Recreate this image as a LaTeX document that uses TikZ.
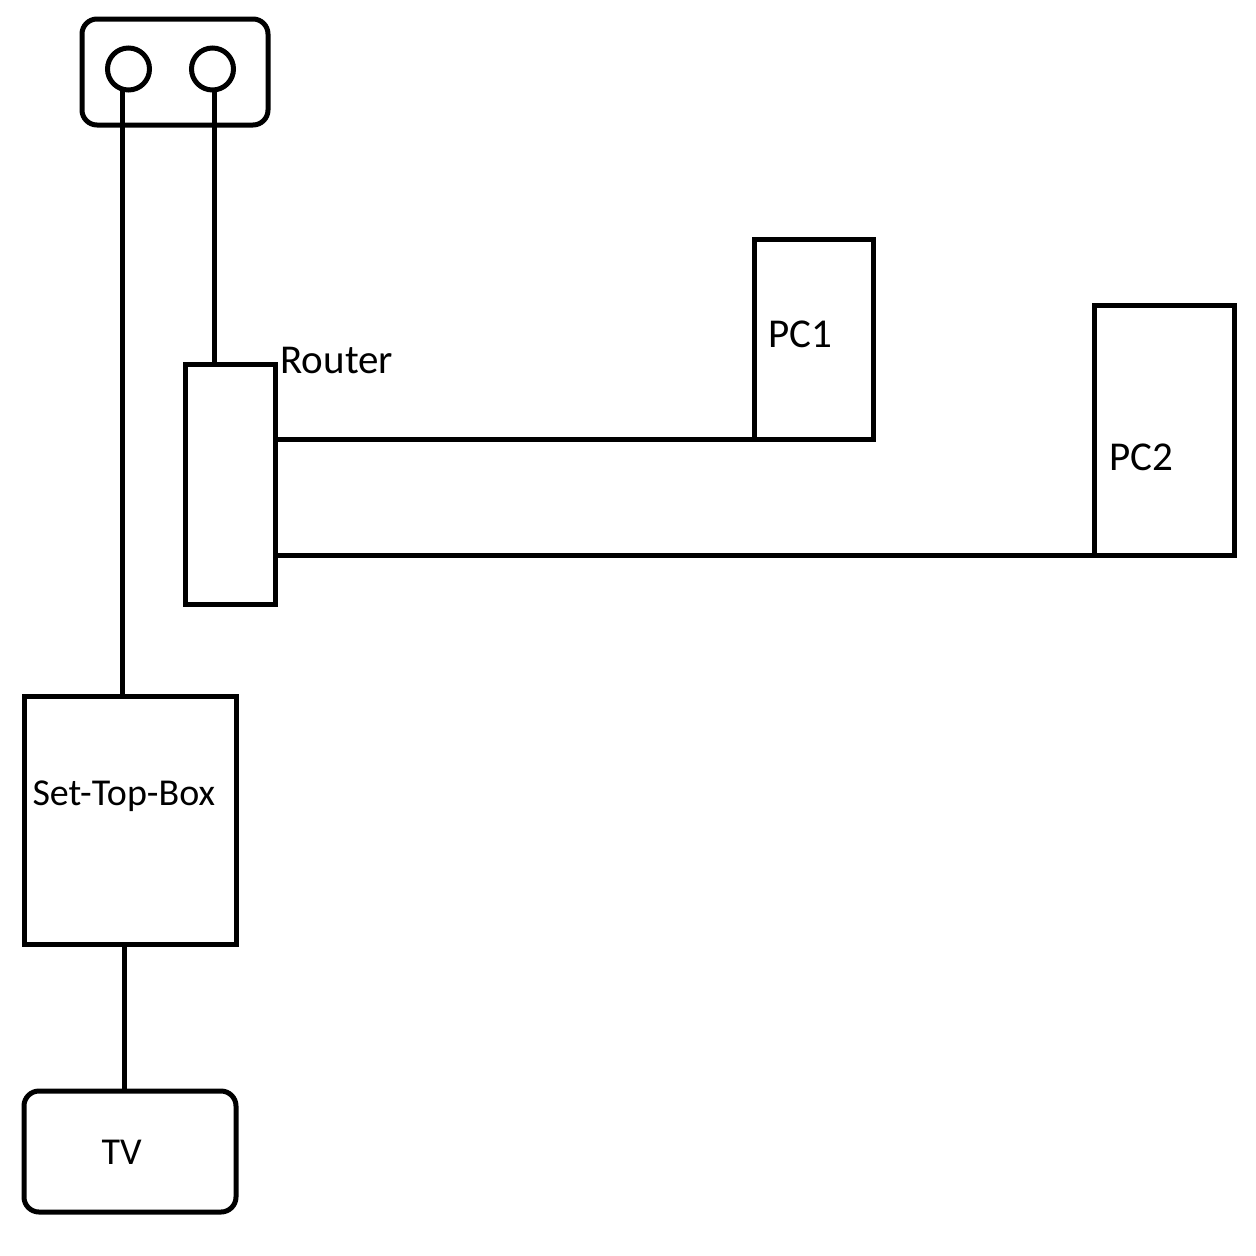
\documentclass[tikz,border=0pt]{standalone}
\usepackage{fontspec}
\setmainfont{Carlito}
\begin{document}
\begin{tikzpicture}[x=1pt,y=-1pt,line width=5pt,
  box/.style={draw,rectangle,inner sep=0pt,outer sep=0pt},
  rbox/.style={box,rounded corners=15pt},
  jack/.style={draw,circle,inner sep=0pt,outer sep=0pt,minimum size=42pt},
  lbl/.style={inner sep=0pt,anchor=base west,font=\fontsize{41}{49}\selectfont},
  slbl/.style={lbl,font=\fontsize{38}{46}\selectfont}]
\useasboundingbox (0,0) rectangle (1256,1256);
% wall socket
\node[rbox,minimum width=186pt,minimum height=106pt] (socket) at (175,72) {};
\node[jack] (j1) at (128.5,69) {};
\node[jack] (j2) at (212.5,69) {};
% devices
\node[box,minimum width=90pt,minimum height=240pt] (router) at (230.5,484.5) {};
\node[box,minimum width=119pt,minimum height=200pt] (pc1) at (813.5,339) {};
\node[box,minimum width=140pt,minimum height=250pt] (pc2) at (1164,430) {};
\node[box,minimum width=212pt,minimum height=248pt] (stb) at (130,820) {};
\node[rbox,minimum width=212pt,minimum height=121pt] (tv) at (130,1151.5) {};
% labels
\node[lbl] (lrouter) at (278,373) {Router};
\node[lbl] (lpc1) at (766,347) {PC1};
\node[lbl] (lpc2) at (1107,470) {PC2};
\node[slbl] (lstb) at (30,805) {Set-Top-Box};
\node[slbl] (ltv) at (99,1164) {TV};
% cables
\coordinate (c1) at (122.5,89.5);
\coordinate (c2) at (214.5,90);
\draw (c1) -- (c1 |- stb.north);
\draw (c2) -- (c2 |- router.north);
\draw (pc1.south west -| router.east) -- (pc1.south west);
\draw (pc2.south west -| router.east) -- (pc2.south west);
\coordinate (c3) at (124.5,944);
\draw (c3 |- stb.south) -- (c3 |- tv.north);
\end{tikzpicture}
\end{document}
